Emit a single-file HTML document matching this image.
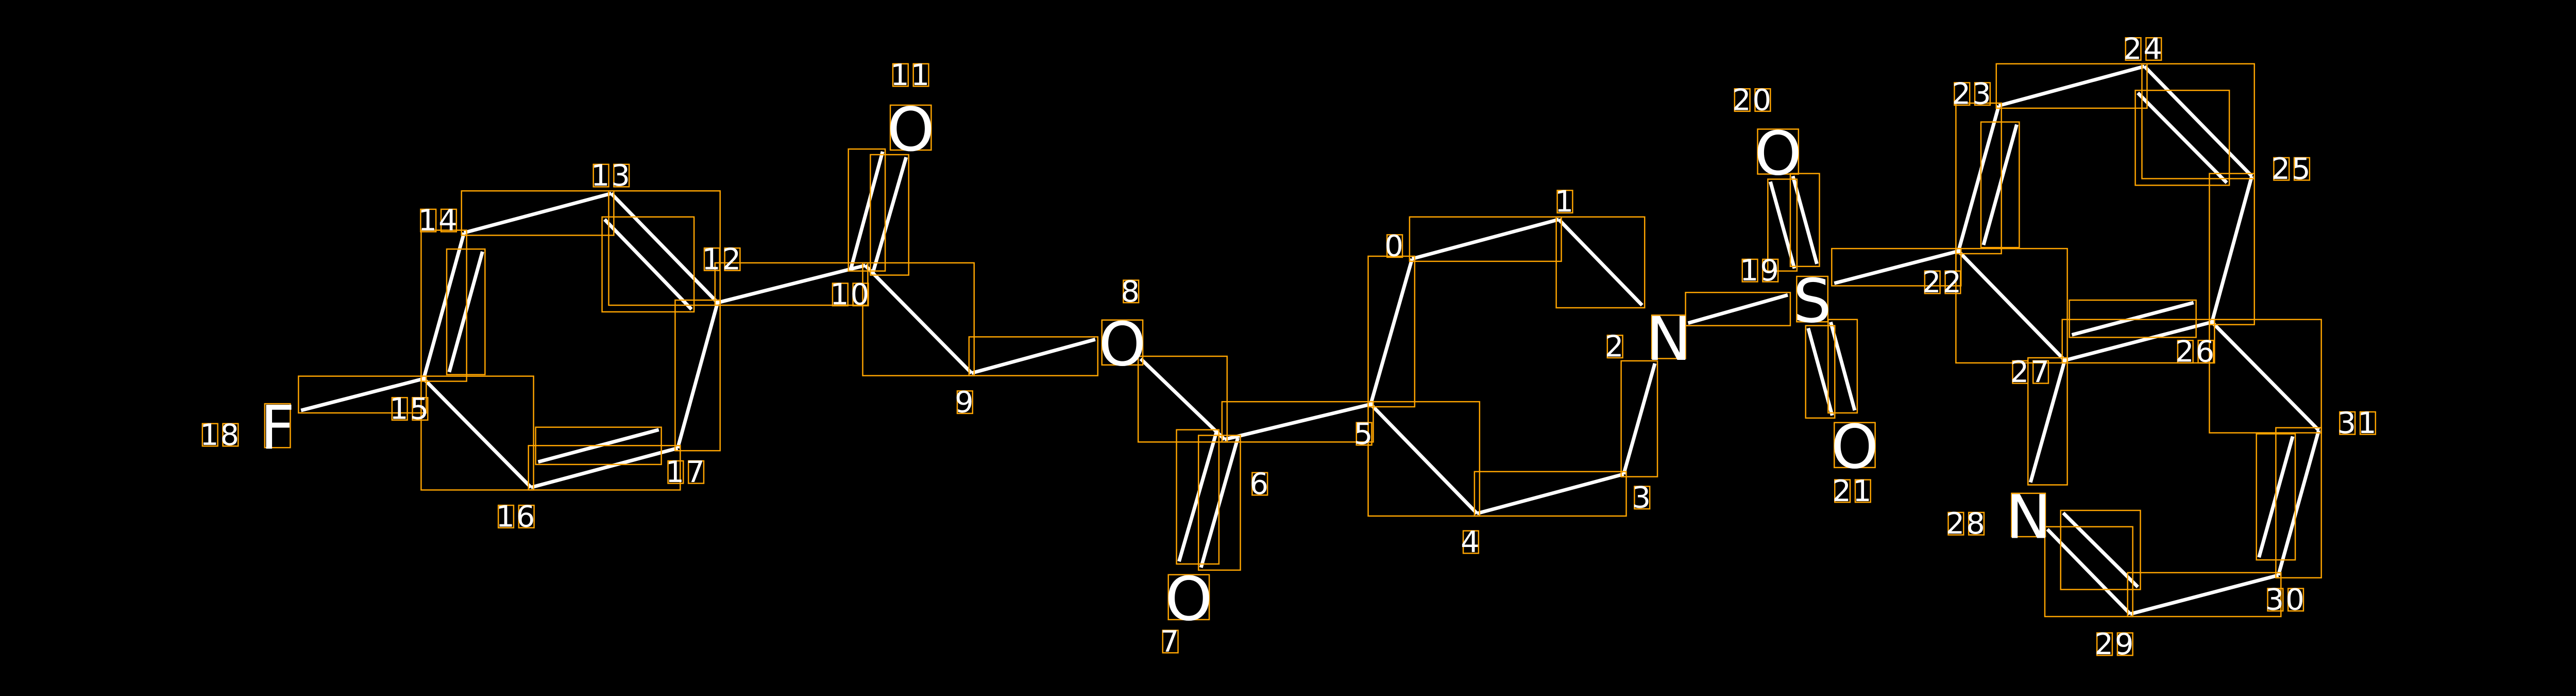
<!DOCTYPE html>
<html><head><meta charset="utf-8"><style>
html,body{margin:0;padding:0;background:#000;width:5044px;height:1350px;overflow:hidden}
svg{display:block}
text{font-family:"DejaVu Sans","Liberation Sans",sans-serif;fill:#fff}
</style></head><body>
<svg id="s" width="5044" height="1350" viewBox="0 0 5044 1350" xmlns="http://www.w3.org/2000/svg">
<rect width="5044" height="1350" fill="#000"/>
<g transform="scale(0.992,0.99)">
<g id="bonds" stroke="#fff" stroke-width="7" stroke-linecap="butt"></g>
<g id="boxes" fill="none" stroke="#ffa500" stroke-width="2.5"></g>
<g font-size="118" text-anchor="middle" dominant-baseline="central">
<text x="543" y="838">F</text>
<text x="1782" y="254">O</text>
<text x="2196" y="675">O</text>
<text x="2326" y="1174">O</text>
<text x="3265" y="664">N</text>
<text x="3546" y="590">S</text>
<text x="3479" y="301">O</text>
<text x="3629" y="876">O</text>
<text x="3969" y="1013">N</text>
</g>
<g id="nums" font-size="58" text-anchor="middle" dominant-baseline="central" letter-spacing="3">
<text x="2729" y="482">0</text>
<text x="3062" y="395">1</text>
<text x="3160" y="679">2</text>
<text x="3213" y="975">3</text>
<text x="2878" y="1062">4</text>
<text x="2669" y="850">5</text>
<text x="2465" y="948">6</text>
<text x="2290" y="1257">7</text>
<text x="2213" y="571">8</text>
<text x="1888" y="788">9</text>
<text x="1664" y="577">10</text>
<text x="1782" y="147">11</text>
<text x="1413" y="508">12</text>
<text x="1196" y="344">13</text>
<text x="858" y="432">14</text>
<text x="802" y="801">15</text>
<text x="1010" y="1012">16</text>
<text x="1342" y="925">17</text>
<text x="431" y="852">18</text>
<text x="3444" y="530">19</text>
<text x="3429" y="196">20</text>
<text x="3625" y="962">21</text>
<text x="3801" y="553">22</text>
<text x="3859" y="184">23</text>
<text x="4194" y="96">24</text>
<text x="4484" y="331">25</text>
<text x="4296" y="689">26</text>
<text x="3973" y="729">27</text>
<text x="3847" y="1026">28</text>
<text x="4138" y="1262">29</text>
<text x="4472" y="1175">30</text>
<text x="4613" y="829">31</text>
</g>
</g>
</svg>
<script>
var B=[
[589,804,829,742],[829,742,908,456],[879,729,944,493],[908,456,1196,379],
[1196,379,1404,593],[1183,430,1353,606],[1404,593,1326,878],[1326,878,1039,955],
[1289,842,1053,905],[1039,955,829,742],[1404,593,1693,520],
[1665,526,1727,297],[1708,534,1773,308],[1693,520,1901,731],[1901,731,2143,665],
[2232,703,2396,861],[2380,847,2307,1100],[2422,858,2350,1112],[2396,861,2682,792],
[2682,792,2763,507],[2763,507,3050,430],[3050,430,3213,598],[3238,712,3177,929],
[3177,929,2890,1006],[2890,1006,2682,792],[3303,633,3498,578],
[3464,356,3511,526],[3508,345,3555,517],[3538,643,3585,814],[3582,631,3629,804],
[3589,555,3832,492],[3832,492,3911,207],[3881,480,3946,244],[3911,207,4196,130],
[4196,130,4406,345],[4183,182,4357,358],[4406,345,4328,631],[4328,631,4040,706],
[4054,656,4292,593],[4040,706,3832,492],[4040,706,3973,945],[4006,1037,4168,1203],
[4037,1005,4183,1150],[4168,1203,4458,1127],[4458,1127,4537,843],[4420,1092,4486,855],
[4537,843,4328,631]];
var ns="http://www.w3.org/2000/svg",g=document.getElementById("bonds"),bx=document.getElementById("boxes");
function R(x,y,w,h){var r=document.createElementNS(ns,"rect");r.setAttribute("x",x);r.setAttribute("y",y);r.setAttribute("width",w);r.setAttribute("height",h);bx.appendChild(r);}
B.forEach(function(b){var l=document.createElementNS(ns,"line");l.setAttribute("x1",b[0]);l.setAttribute("y1",b[1]);l.setAttribute("x2",b[2]);l.setAttribute("y2",b[3]);g.appendChild(l);
var x=Math.min(b[0],b[2])-5,y=Math.min(b[1],b[3])-5;R(x,y,Math.abs(b[0]-b[2])+10,Math.abs(b[1]-b[3])+10);});
var A=[[543,834,50,86],[1782,250,80,88],[2196,671,80,88],[2326,1170,80,88],[3265,660,66,85],[3546,586,61,89],[3479,297,80,88],[3629,872,80,88],[3969,1009,66,85]];
A.forEach(function(a){R(a[0]-a[2]/2,a[1]-a[3]/2,a[2],a[3]);});
document.querySelectorAll("#nums text").forEach(function(t){var s=t.textContent,cx=+t.getAttribute("x"),cy=+t.getAttribute("y");
for(var i=0;i<s.length;i++){var c=cx+(i-(s.length-1)/2)*40;R(c-15,cy-22,30,44);}});
</script>
</body></html>
